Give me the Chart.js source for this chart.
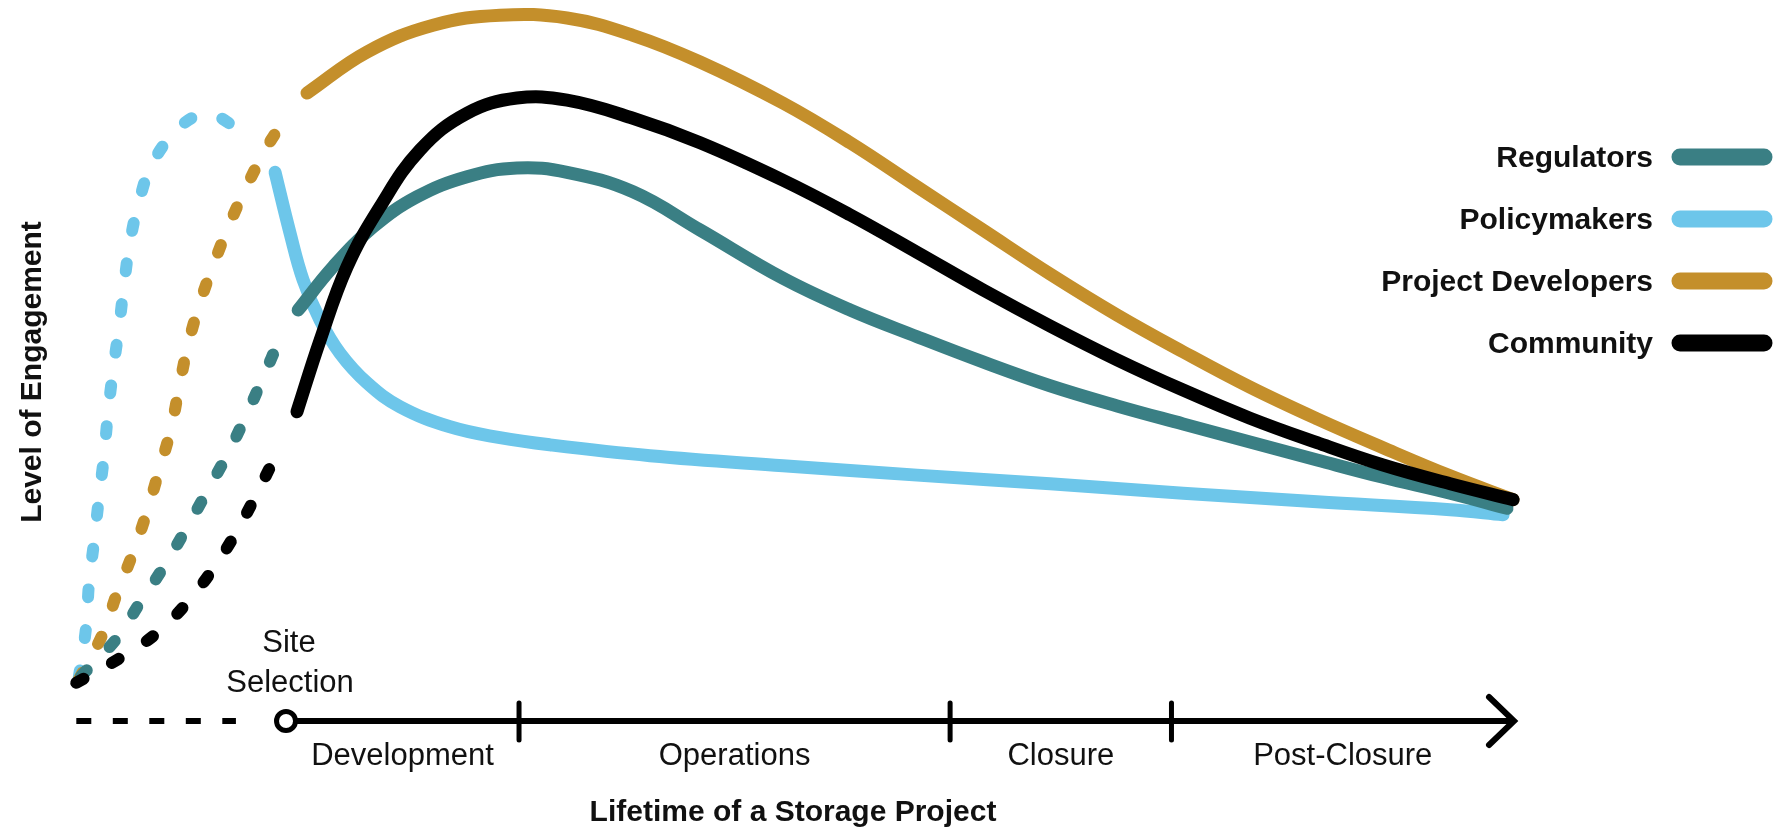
<!DOCTYPE html>
<html>
<head>
<meta charset="utf-8">
<script src="https://cdn.jsdelivr.net/npm/chart.js@4.4.1/dist/chart.umd.min.js"></script>
<style>
  html, body { margin: 0; padding: 0; background: #ffffff; }
  #wrap { width: 1777px; height: 829px; position: relative; }
</style>
</head>
<body>
<div id="wrap"><canvas id="c"></canvas></div>
<script>
// ---------- DATA ----------
const seriesNames = ['Regulators', 'Policymakers', 'Project Developers', 'Community'];
const seriesColors = ['#3a7f84', '#6dc6ea', '#c48f2b', '#000000'];

// engagement before site selection (dashed), [time, level]
const regulatorsBefore = [[-8.8,6.2],[-7.25,11.5],[-6.27,16.4],[-5.28,21.2],[-4.33,26.4],[-3.43,31.6],[-2.53,36.9],[-1.72,42.3],[-0.99,47.6],[-0.26,53.1]];
const policymakersBefore = [[-8.9,5.9],[-8.58,13.0],[-8.45,19.3],[-8.24,24.8],[-8.03,30.9],[-7.81,36.8],[-7.64,42.7],[-7.42,48.7],[-7.17,54.5],[-6.95,60.5],[-6.70,66.3],[-6.31,72.0],[-5.71,77.5],[-4.55,82.4],[-3.5,84.3],[-2.9,83.8],[-2.3,82.6]];
const developersBefore = [[-8.9,5.7],[-7.85,12.2],[-7.25,17.75],[-6.57,23.3],[-5.97,29.0],[-5.45,34.7],[-4.94,40.5],[-4.59,46.2],[-4.21,52.1],[-3.69,58.0],[-3.09,63.5],[-2.40,69.1],[-1.67,74.3],[-0.82,79.6],[-0.5,81.3]];
const communityBefore = [[-9.0,5.3],[-7.04,8.9],[-5.54,12.2],[-4.25,16.4],[-3.13,21.1],[-2.15,26.1],[-1.29,31.3],[-0.47,36.6]];

// engagement from site selection onward (solid), [time, level]
const regulatorsAfter = [[0.52,57.0],[2.02,63.0],[3.73,68.5],[5.62,72.7],[7.77,75.5],[9.91,76.7],[12.06,76.1],[14.89,73.4],[17.77,68.1],[21.33,61.4],[24.21,57.0],[27.08,53.3],[29.91,49.8],[32.79,46.5],[35.67,43.7],[38.50,41.2],[41.37,38.7],[44.25,36.2],[47.08,33.8],[49.96,31.6],[52.4,29.5]];
const policymakersAfter = [[-0.47,76.1],[0.17,67.7],[0.73,61.2],[1.46,55.6],[2.32,51.0],[3.48,46.9],[4.89,43.6],[7.04,40.8],[9.18,39.3],[11.33,38.3],[15.62,36.8],[21.33,35.4],[27.08,34.1],[32.79,32.9],[38.50,31.6],[44.25,30.4],[49.96,29.3],[52.23,28.6]];
const developersAfter = [[0.90,87.1],[3.48,92.8],[6.31,96.5],[9.18,97.9],[12.06,97.5],[14.89,95.1],[17.77,91.4],[21.33,85.7],[24.21,80.2],[27.08,74.1],[29.91,68.1],[32.79,62.0],[35.67,56.3],[38.50,51.2],[41.37,46.3],[44.25,41.9],[47.08,37.9],[49.96,34.0],[52.66,30.7]];
const communityAfter = [[0.47,42.9],[1.46,52.8],[2.62,63.0],[4.03,71.3],[5.75,79.2],[7.77,84.3],[9.91,86.4],[12.06,86.1],[14.89,83.6],[17.77,80.2],[21.33,75.0],[24.21,70.2],[27.08,65.0],[29.91,59.8],[32.79,54.8],[35.67,50.1],[38.50,45.9],[41.37,42.0],[44.25,38.6],[47.08,35.5],[49.96,32.9],[52.66,30.7]];

// project phases along the time axis
const phaseNames = ['Development', 'Operations', 'Closure', 'Post-Closure'];
const phaseBounds = [0, 10, 28.5, 38, 52.7];
const preSiteSpan = [-9, -2.15];
const siteSelectionLabel = ['Site', 'Selection'];
const xAxisTitle = 'Lifetime of a Storage Project';
const yAxisTitle = 'Level of Engagement';

// ---------- BUILD ----------
const FONT = "'Liberation Sans', Arial, sans-serif";
const beforeSets = [regulatorsBefore, policymakersBefore, developersBefore, communityBefore];
const afterSets = [regulatorsAfter, policymakersAfter, developersAfter, communityAfter];
const drawOrder = [1, 3, 2, 0]; // lower = on top
const toPts = a => a.map(p => ({ x: p[0], y: p[1] }));

const datasets = [];
seriesNames.forEach((name, i) => {
  datasets.push({
    label: name + ' (before site selection)',
    data: toPts(beforeSets[i]),
    borderColor: seriesColors[i],
    borderWidth: 12,
    borderDash: [8, 33],
    borderCapStyle: 'round',
    fill: false,
    clip: false,
    order: drawOrder[i]
  });
  datasets.push({
    label: name,
    data: toPts(afterSets[i]),
    borderColor: seriesColors[i],
    borderWidth: 13,
    borderCapStyle: 'round',
    borderJoinStyle: 'round',
    fill: false,
    clip: false,
    order: drawOrder[i]
  });
});

const framePlugin = {
  id: 'frame',
  afterDatasetsDraw(chart) {
    const { ctx, chartArea: a, scales: { x, y } } = chart;
    const y0 = y.getPixelForValue(0);
    ctx.save();
    ctx.strokeStyle = '#000';
    ctx.fillStyle = '#111';

    // dashed pre-site-selection axis
    ctx.lineWidth = 6;
    ctx.lineCap = 'butt';
    ctx.setLineDash([15, 21.5]);
    ctx.beginPath();
    ctx.moveTo(x.getPixelForValue(preSiteSpan[0]), y0);
    ctx.lineTo(x.getPixelForValue(preSiteSpan[1]), y0);
    ctx.stroke();
    ctx.setLineDash([]);

    // main axis
    const xs = x.getPixelForValue(phaseBounds[0]);
    const xe = x.getPixelForValue(phaseBounds[phaseBounds.length - 1]);
    ctx.beginPath();
    ctx.moveTo(xs, y0);
    ctx.lineTo(xe - 4, y0);
    ctx.stroke();

    // arrow head
    ctx.lineWidth = 6;
    ctx.lineCap = 'round';
    ctx.lineJoin = 'miter';
    ctx.beginPath();
    ctx.moveTo(xe - 25, y0 - 24);
    ctx.lineTo(xe, y0);
    ctx.lineTo(xe - 25, y0 + 24);
    ctx.stroke();

    // phase ticks
    ctx.lineWidth = 5;
    ctx.lineCap = 'round';
    for (let i = 1; i < phaseBounds.length - 1; i++) {
      const px = x.getPixelForValue(phaseBounds[i]);
      ctx.beginPath();
      ctx.moveTo(px, y0 - 18);
      ctx.lineTo(px, y0 + 19);
      ctx.stroke();
    }

    // site selection marker
    ctx.beginPath();
    ctx.arc(xs, y0, 9.5, 0, Math.PI * 2);
    ctx.fillStyle = '#fff';
    ctx.fill();
    ctx.lineWidth = 5;
    ctx.stroke();

    // phase labels
    ctx.fillStyle = '#111';
    ctx.font = '31px ' + FONT;
    ctx.textAlign = 'center';
    ctx.textBaseline = 'alphabetic';
    for (let i = 0; i < phaseNames.length; i++) {
      const cx = (x.getPixelForValue(phaseBounds[i]) + x.getPixelForValue(phaseBounds[i + 1])) / 2;
      ctx.fillText(phaseNames[i], cx, y0 + 44);
    }

    // site selection label
    ctx.fillText(siteSelectionLabel[0], xs + 3, y0 - 69);
    ctx.fillText(siteSelectionLabel[1], xs + 4, y0 - 29);

    // x axis title
    ctx.font = 'bold 30px ' + FONT;
    ctx.fillText(xAxisTitle, (a.left + a.right) / 2 + 6, y0 + 100);

    // y axis title
    ctx.save();
    ctx.translate(33, 372);
    ctx.rotate(-Math.PI / 2);
    ctx.textBaseline = 'middle';
    ctx.fillText(yAxisTitle, 0, 0);
    ctx.restore();

    // legend
    ctx.textAlign = 'right';
    ctx.textBaseline = 'alphabetic';
    ctx.font = 'bold 30px ' + FONT;
    const W = chart.width;
    for (let i = 0; i < seriesNames.length; i++) {
      const ly = 157 + i * 62;
      ctx.strokeStyle = seriesColors[i];
      ctx.lineWidth = 17;
      ctx.lineCap = 'round';
      ctx.beginPath();
      ctx.moveTo(W - 97, ly);
      ctx.lineTo(W - 13, ly);
      ctx.stroke();
      ctx.fillStyle = '#111';
      ctx.fillText(seriesNames[i], W - 124, ly + 10);
    }
    ctx.restore();
  }
};

new Chart(document.getElementById('c'), {
  type: 'line',
  data: { datasets },
  options: {
    responsive: true,
    maintainAspectRatio: false,
    animation: false,
    events: [],
    layout: { padding: { left: 53, right: 256, top: 0, bottom: 108 } },
    scales: {
      x: { type: 'linear', min: -10, max: 53, display: false },
      y: { type: 'linear', min: 0, max: 100, display: false }
    },
    elements: {
      point: { radius: 0 },
      line: { tension: 0.4, cubicInterpolationMode: 'default', capBezierPoints: false }
    },
    plugins: { legend: { display: false }, tooltip: { enabled: false } }
  },
  plugins: [framePlugin]
});
</script>
</body>
</html>
